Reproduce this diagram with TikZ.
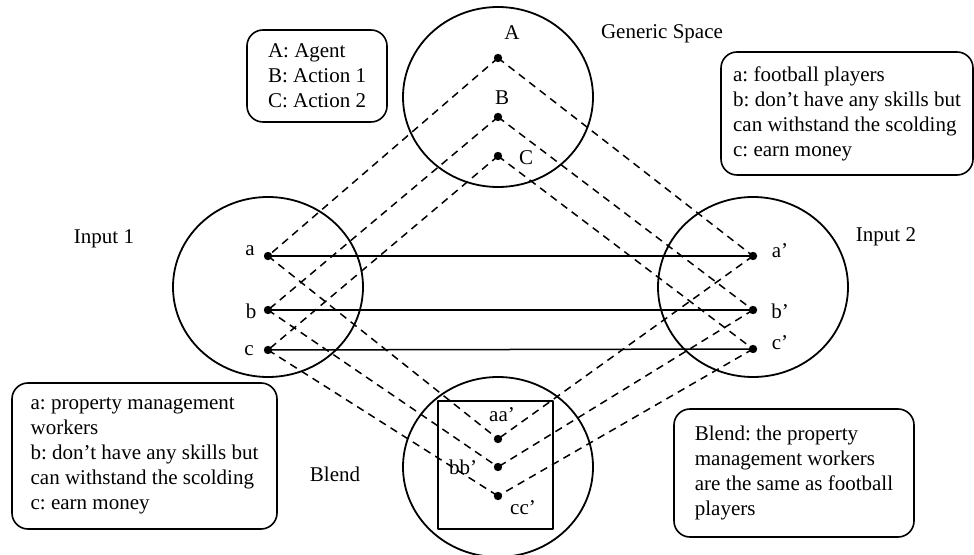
\documentclass[tikz,border=0pt]{standalone}
\usepackage{fontspec}
\setmainfont{Liberation Serif}
\frenchspacing
\usetikzlibrary{shapes.geometric}

\tikzset{
  spacering/.style={draw, ellipse, line width=0.9pt, minimum width=95pt, minimum height=90pt, inner sep=0pt},
  bullet/.style={circle, fill=black, inner sep=0pt, minimum size=4.2pt},
  keybox/.style={draw, rounded corners=8pt, line width=0.8pt, align=left, inner sep=0pt},
  mapline/.style={dash pattern=on 3.8pt off 2.8pt, line width=0.75pt},
  linkline/.style={line width=0.75pt}
}

\begin{document}
\begin{tikzpicture}[line cap=butt, line join=round, x=0.5pt, y=-0.5pt, every node/.style={font=\fontsize{10.5}{12.5}\selectfont}]
    \useasboundingbox (0,0) rectangle (974,555);

    % the four spaces
    \node[spacering] (generic) at (498,97) {};
    \node[spacering] (input1) at (268,287) {};
    \node[spacering] (input2) at (753,287) {};
    \node[spacering] (blend) at (498,467) {};
    \draw[line width=0.8pt] (438,401) rectangle (553,529);

    % elements
    \node[bullet] (A) at (498,58) {};
    \node[bullet] (B) at (498,117) {};
    \node[bullet] (C) at (498,156) {};
    \node[bullet] (a) at (268,256) {};
    \node[bullet] (b) at (268,310) {};
    \node[bullet] (c) at (268,350) {};
    \node[bullet] (a2) at (753,256) {};
    \node[bullet] (b2) at (753,310) {};
    \node[bullet] (c2) at (753,349) {};
    \node[bullet] (aa) at (498,439) {};
    \node[bullet] (bb) at (498,467) {};
    \node[bullet] (cc) at (498,496) {};

    % cross-space mapping
    \draw[linkline] (a.center) -- (a2.center);
    \draw[linkline] (b.center) -- (b2.center);
    \draw[linkline] (c.center) -- (c2.center);

    \draw[mapline] (A.center) -- (a.center);
    \draw[mapline] (A.center) -- (a2.center);
    \draw[mapline] (B.center) -- (b.center);
    \draw[mapline] (B.center) -- (b2.center);
    \draw[mapline] (C.center) -- (c.center);
    \draw[mapline] (C.center) -- (c2.center);
    \draw[mapline] (a.center) -- (aa.center);
    \draw[mapline] (a2.center) -- (aa.center);
    \draw[mapline] (b.center) -- (bb.center);
    \draw[mapline] (b2.center) -- (bb.center);
    \draw[mapline] (c.center) -- (cc.center);
    \draw[mapline] (c2.center) -- (cc.center);

    % element labels
    \node (labA) at (512,33) {A};
    \node (labB) at (502,98) {B};
    \node (labC) at (526,158) {C};
    \node (laba) at (250,251) {a};
    \node (labb) at (251,311) {b};
    \node (labc) at (249,351) {c};
    \node (laba2) at (780,251) {a’};
    \node (labb2) at (780,311) {b’};
    \node (labc2) at (780,343) {c’};
    \node (labaa) at (502,415) {aa’};
    \node (labbb) at (463,467) {bb’};
    \node (labcc) at (523,508) {cc’};

    % space titles
    \node (titleGeneric) at (662,34) {Generic Space};
    \node (titleInput1) at (104,239) {Input 1};
    \node (titleInput2) at (886,237) {Input 2};
    \node (titleBlend) at (335,474) {Blend};

    % keys
    \node[keybox, minimum width=70pt, minimum height=46pt] (keyGeneric) at (317,76)
      {A: Agent\\B: Action 1\\C: Action 2};
    \node[keybox, minimum width=126pt, minimum height=61.5pt] (keyInput2) at (847,113.5)
      {a: football players\\b: don’t have any skills but\\can withstand the scolding\\c: earn money};
    \node[keybox, minimum width=132.5pt, minimum height=73pt] (keyInput1) at (144.5,456)
      {a: property management\\workers\\b: don’t have any skills but\\can withstand the scolding\\c: earn money};
    \node[keybox, minimum width=120pt, minimum height=64pt] (keyBlend) at (794,473)
      {Blend: the property\\management workers\\are the same as football\\players};

\end{tikzpicture}
\end{document}
